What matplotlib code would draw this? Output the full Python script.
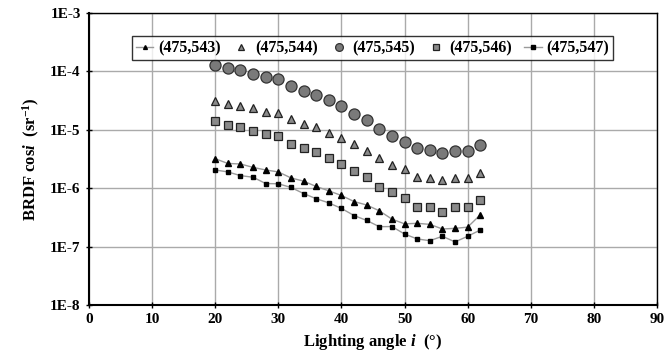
import matplotlib
matplotlib.use("Agg")
import matplotlib.pyplot as plt
from matplotlib.ticker import FixedLocator, FuncFormatter, NullLocator

plt.rcParams['font.family'] = ['Liberation Serif', 'DejaVu Serif']
plt.rcParams['font.weight'] = 'bold'
plt.rcParams['mathtext.fontset'] = 'custom'
plt.rcParams['mathtext.rm'] = 'Liberation Serif:bold'
plt.rcParams['mathtext.it'] = 'Liberation Serif:italic:bold'

angles = [20, 22, 24, 26, 28, 30, 32, 34, 36, 38, 40, 42, 44, 46, 48, 50, 52, 54, 56, 58, 60, 62]

s543 = [3.2e-6, 2.65e-6, 2.6e-6, 2.27e-6, 2.05e-6, 1.9e-6, 1.5e-6, 1.32e-6, 1.07e-6, 9.0e-7, 7.5e-7,
        5.9e-7, 5.15e-7, 4.1e-7, 2.95e-7, 2.45e-7, 2.5e-7, 2.4e-7, 2.0e-7, 2.05e-7, 2.15e-7, 3.5e-7]
s544 = [3.1e-5, 2.73e-5, 2.6e-5, 2.36e-5, 2.0e-5, 1.95e-5, 1.56e-5, 1.28e-5, 1.11e-5, 8.9e-6, 7.1e-6,
        5.7e-6, 4.3e-6, 3.27e-6, 2.45e-6, 2.1e-6, 1.55e-6, 1.5e-6, 1.37e-6, 1.5e-6, 1.52e-6, 1.85e-6]
s545 = [1.3e-4, 1.14e-4, 1.04e-4, 9.1e-5, 7.9e-5, 7.5e-5, 5.7e-5, 4.7e-5, 4.0e-5, 3.2e-5, 2.56e-5,
        1.9e-5, 1.5e-5, 1.02e-5, 7.7e-6, 6.2e-6, 4.9e-6, 4.5e-6, 4.0e-6, 4.4e-6, 4.4e-6, 5.6e-6]
s546 = [1.39e-5, 1.22e-5, 1.12e-5, 9.6e-6, 8.4e-6, 7.7e-6, 5.7e-6, 4.8e-6, 4.1e-6, 3.3e-6, 2.6e-6,
        1.97e-6, 1.56e-6, 1.03e-6, 8.7e-7, 6.7e-7, 4.8e-7, 4.7e-7, 3.9e-7, 4.8e-7, 4.8e-7, 6.2e-7]
s547 = [2.05e-6, 1.9e-6, 1.64e-6, 1.54e-6, 1.2e-6, 1.19e-6, 1.03e-6, 8.1e-7, 6.6e-7, 5.6e-7, 4.5e-7,
        3.4e-7, 2.8e-7, 2.19e-7, 2.2e-7, 1.64e-7, 1.35e-7, 1.26e-7, 1.5e-7, 1.2e-7, 1.5e-7, 1.92e-7]

labels = ['(475,543)', '(475,544)', '(475,545)', '(475,546)', '(475,547)']
xticks = [0, 10, 20, 30, 40, 50, 60, 70, 80, 90]
yticks = [1e-8, 1e-7, 1e-6, 1e-5, 1e-4, 1e-3]
ytick_labels = ['1E-8', '1E-7', '1E-6', '1E-5', '1E-4', '1E-3']

fig = plt.figure(figsize=(6.67, 3.63), dpi=100)
ax = fig.add_axes([0.1334, 0.16, 0.8516, 0.804])

ax.plot(angles, s543, color='#9a9a9a', lw=1.0, marker='^', ms=4, mfc='black', mec='black',
        label=labels[0], zorder=3)
ax.plot(angles, s544, ls='none', marker='^', ms=5.5, mfc='#8a8a8a', mec='#222222', mew=0.9,
        label=labels[1], zorder=3)
ax.plot(angles, s545, ls='none', marker='o', ms=8, mfc='#7a7a7a', mec='#333333', mew=0.9,
        label=labels[2], zorder=3)
ax.plot(angles, s546, ls='none', marker='s', ms=6, mfc='#8a8a8a', mec='#222222', mew=0.9,
        label=labels[3], zorder=3)
ax.plot(angles, s547, color='#9a9a9a', lw=1.0, marker='s', ms=3.5, mfc='black', mec='black',
        label=labels[4], zorder=3)

ax.set_yscale('log')
ax.set_xlim(0, 90)
ax.set_ylim(1e-8, 1e-3)
ax.xaxis.set_major_locator(FixedLocator(xticks))
ax.yaxis.set_major_locator(FixedLocator(yticks))
ax.yaxis.set_minor_locator(NullLocator())
ax.yaxis.set_major_formatter(FuncFormatter(lambda v, p: ytick_labels[yticks.index(min(yticks, key=lambda t: abs(t - v) / t))]))
ax.grid(True, color='#aaaaaa', lw=1.0, zorder=0)
ax.set_axisbelow(True)
for side in ['left', 'bottom']:
    ax.spines[side].set_linewidth(1.5)
for side in ['top', 'right']:
    ax.spines[side].set_linewidth(1.0)
ax.tick_params(axis='both', direction='inout', length=5, width=1, labelsize=11)
for lab in ax.get_xticklabels() + ax.get_yticklabels():
    lab.set_fontweight('bold')

ax.set_xlabel('Lighting angle $i$  (°)', fontsize=12, fontweight='bold', labelpad=4)
ax.set_ylabel('BRDF cos$i$  (sr$^{-1}$)', fontsize=12, fontweight='bold', labelpad=6)

leg = ax.legend(loc='upper center', bbox_to_anchor=(0.499, 0.948), ncol=5, frameon=True,
                fancybox=False, edgecolor='black', fontsize=11.5, handlelength=1.1,
                handletextpad=0.3, columnspacing=0.75, borderpad=0.25, markerscale=0.7)
leg.get_frame().set_linewidth(1.0)
for t in leg.get_texts():
    t.set_fontweight('bold')

fig.savefig('out.png', dpi=100)
